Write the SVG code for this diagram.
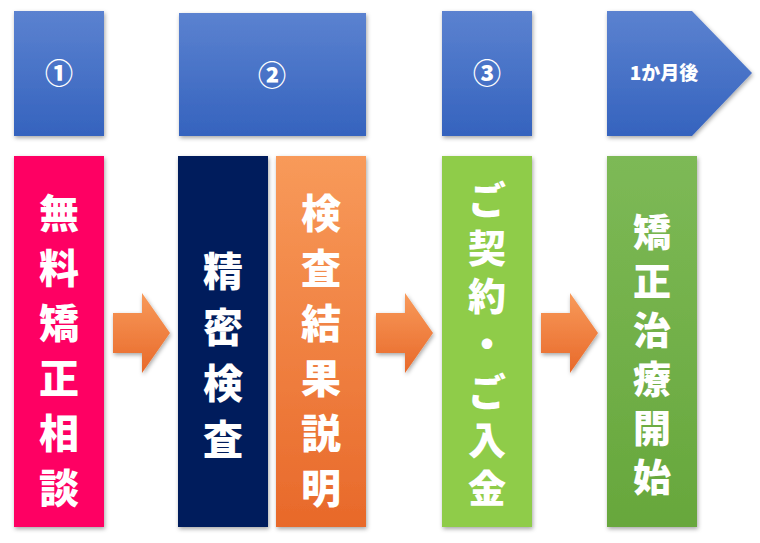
<svg xmlns="http://www.w3.org/2000/svg" width="760" height="543" viewBox="0 0 760 543">
<defs>
<linearGradient id="blue" x1="0" y1="0" x2="0" y2="1"><stop offset="0" stop-color="#5b82d0"/><stop offset="1" stop-color="#3563be"/></linearGradient>
<linearGradient id="org" x1="0" y1="0" x2="0" y2="1"><stop offset="0" stop-color="#f89a5a"/><stop offset="1" stop-color="#e8692a"/></linearGradient>
<linearGradient id="g2" x1="0" y1="0" x2="0" y2="1"><stop offset="0" stop-color="#7db956"/><stop offset="1" stop-color="#67a73c"/></linearGradient>
<filter id="sh" x="-10%" y="-10%" width="130%" height="130%"><feDropShadow dx="1" dy="2" stdDeviation="2" flood-opacity="0.35"/></filter>
</defs>
<style>
.t{font-family:"Noto Sans CJK JP","Liberation Sans",sans-serif;font-weight:900;fill:#fff;text-anchor:middle}
.h{font-size:28px}.v{font-size:40px}.w{font-size:38px}
</style>
<rect width="760" height="543" fill="#fff"/>
<g id="head1"><rect x="14" y="11" width="90" height="125" fill="url(#blue)" filter="url(#sh)"/><text class="t h" x="59" y="84">①</text></g>
<g id="head2"><rect x="179" y="13" width="187" height="123" fill="url(#blue)" filter="url(#sh)"/><text class="t h" x="272" y="86">②</text></g>
<g id="head3"><rect x="442" y="11" width="90" height="125" fill="url(#blue)" filter="url(#sh)"/><text class="t h" x="487" y="84">③</text></g>
<g id="head4"><polygon points="607,11 692,11 752,73 692,136 607,136" fill="url(#blue)" filter="url(#sh)"/><text class="t" style="font-size:19px" x="664" y="80">1か月後</text></g>
<g id="step1"><rect x="14" y="156" width="90" height="371" fill="#fe0063" filter="url(#sh)"/>
<text class="t v" x="59" y="228"><tspan x="59">無</tspan><tspan x="59" dy="55">料</tspan><tspan x="59" dy="55">矯</tspan><tspan x="59" dy="55">正</tspan><tspan x="59" dy="55">相</tspan><tspan x="59" dy="55">談</tspan></text></g>
<g id="step2a"><rect x="178" y="156" width="90" height="371" fill="#001e5c" filter="url(#sh)"/>
<text class="t v" x="223" y="286"><tspan x="223">精</tspan><tspan x="223" dy="56">密</tspan><tspan x="223" dy="56">検</tspan><tspan x="223" dy="56">査</tspan></text></g>
<g id="step2b"><rect x="276" y="156" width="90" height="371" fill="url(#org)" filter="url(#sh)"/>
<text class="t v" x="321" y="228"><tspan x="321">検</tspan><tspan x="321" dy="55">査</tspan><tspan x="321" dy="55">結</tspan><tspan x="321" dy="55">果</tspan><tspan x="321" dy="55">説</tspan><tspan x="321" dy="55">明</tspan></text></g>
<g id="step3"><rect x="442" y="156" width="90" height="371" fill="#8fcc4a" filter="url(#sh)"/>
<text class="t w" x="487" y="214"><tspan x="487">ご</tspan><tspan x="487" dy="48">契</tspan><tspan x="487" dy="48">約</tspan><tspan x="487" dy="48">・</tspan><tspan x="487" dy="48">ご</tspan><tspan x="487" dy="48">入</tspan><tspan x="487" dy="48">金</tspan></text></g>
<g id="step4"><rect x="607" y="156" width="90" height="371" fill="url(#g2)" filter="url(#sh)"/>
<text class="t w" x="652" y="246"><tspan x="652">矯</tspan><tspan x="652" dy="49">正</tspan><tspan x="652" dy="49">治</tspan><tspan x="652" dy="49">療</tspan><tspan x="652" dy="49">開</tspan><tspan x="652" dy="49">始</tspan></text></g>
<g id="connectors" fill="url(#org)" filter="url(#sh)">
<polygon points="113,313 142,313 142,293 170,333 142,373 142,353 113,353"/>
<polygon points="376,313 405,313 405,293 433,333 405,373 405,353 376,353"/>
<polygon points="541,313 570,313 570,293 598,333 570,373 570,353 541,353"/>
</g>
</svg>
